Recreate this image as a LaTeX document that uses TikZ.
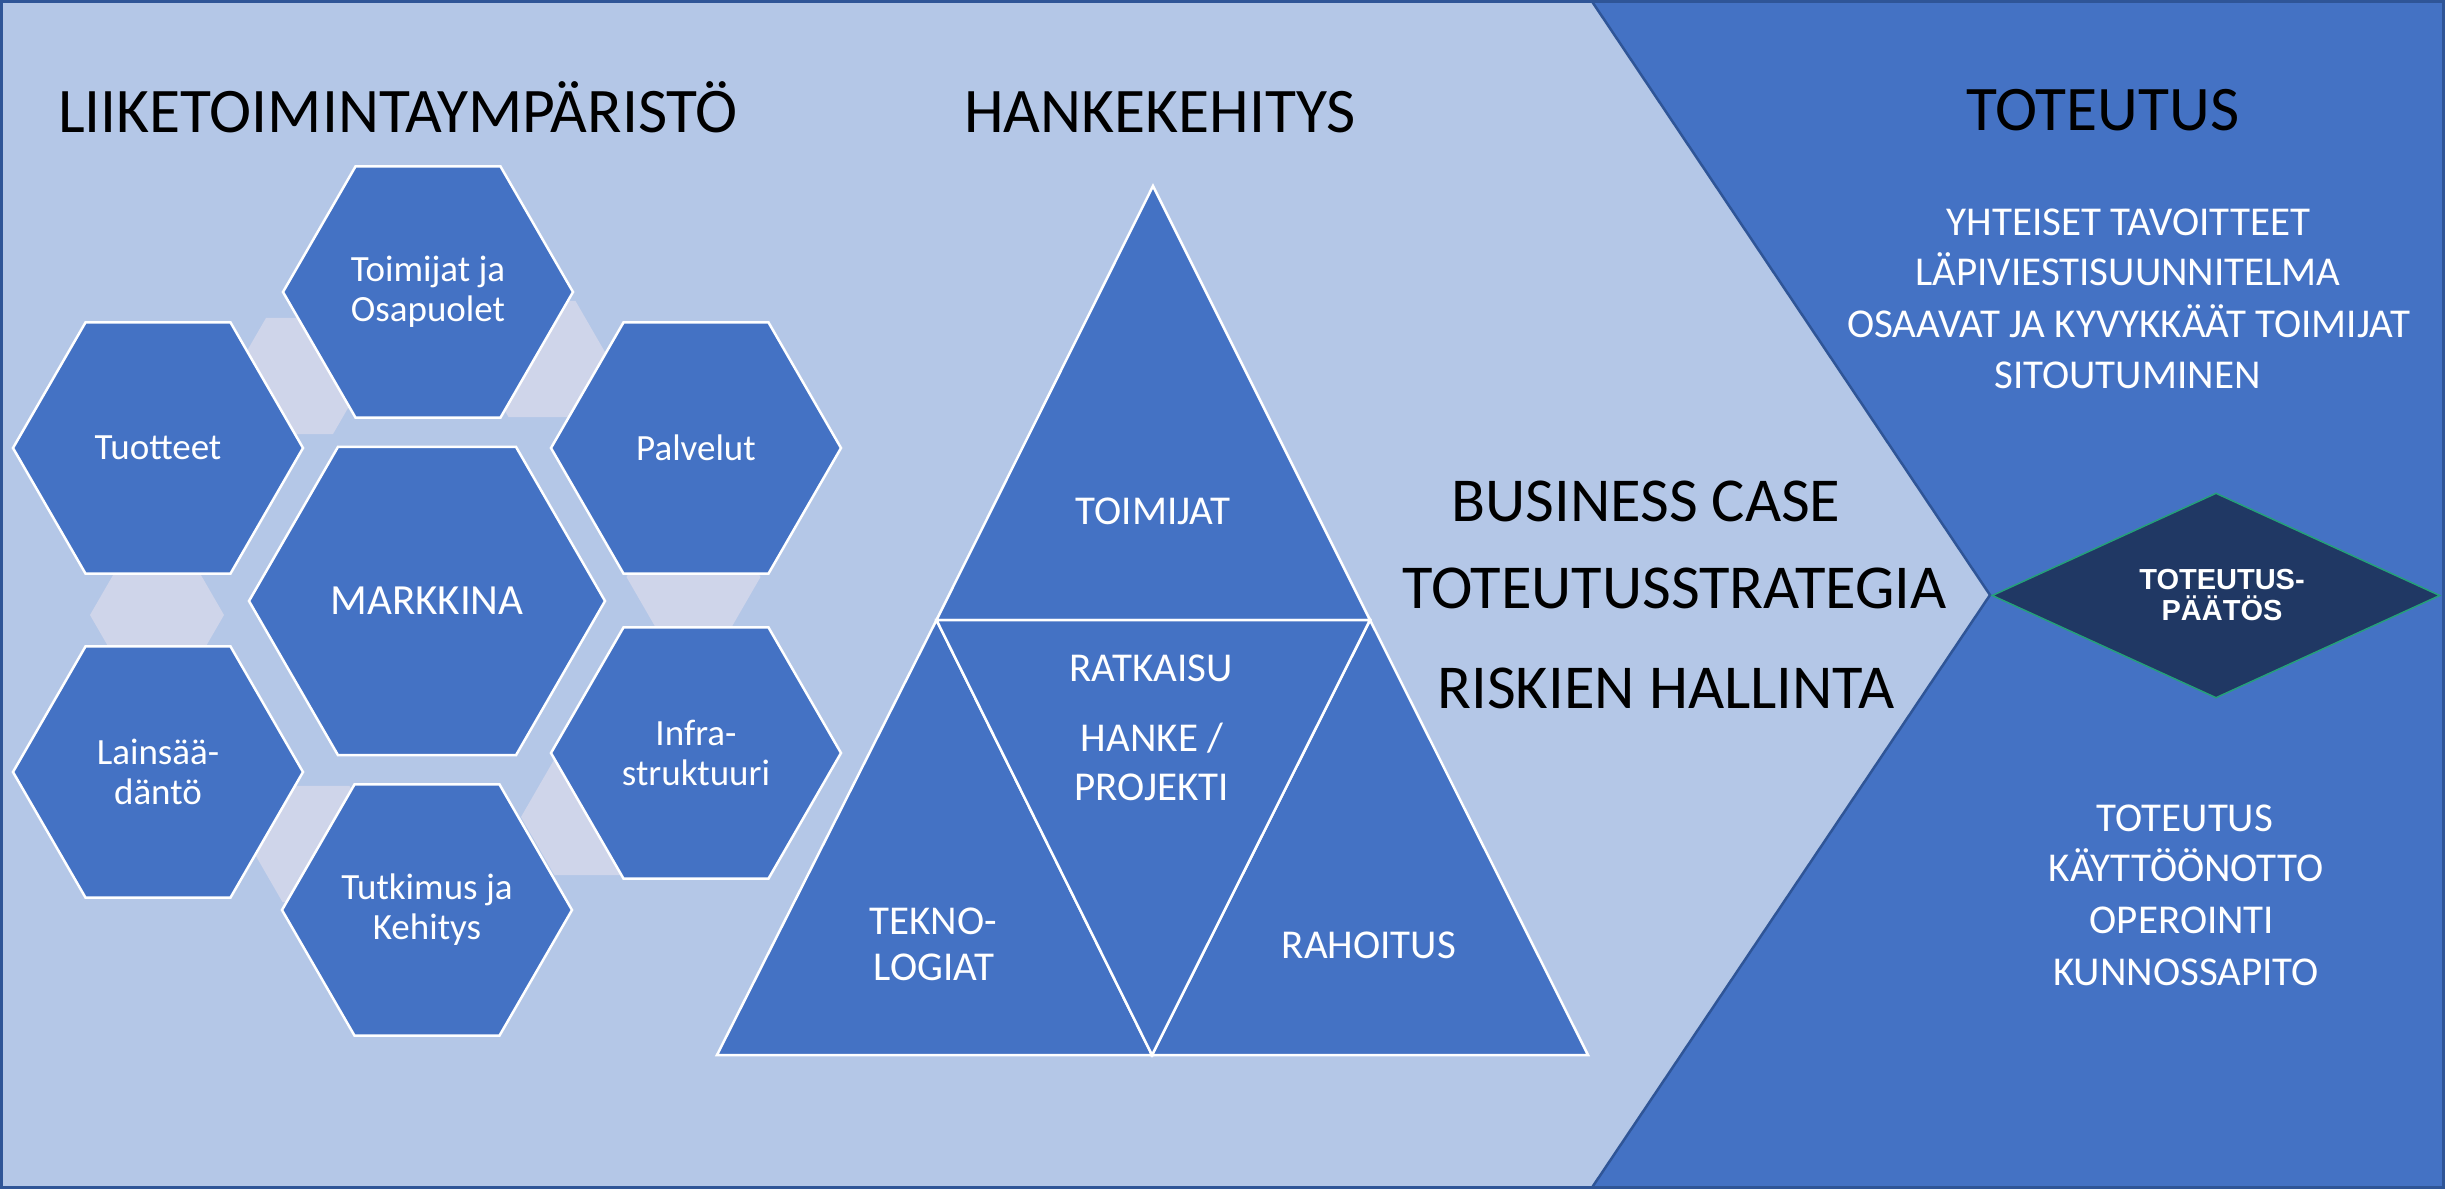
\documentclass[tikz,border=0pt]{standalone}
\usepackage{fontspec}
\setmainfont{Carlito}
\newfontfamily\arialfont{Liberation Sans}
\usetikzlibrary{shapes.geometric}
\definecolor{bgdark}{HTML}{4472C4}
\definecolor{bglight}{HTML}{B4C7E7}
\definecolor{palehex}{HTML}{CFD5EA}
\definecolor{navyfill}{HTML}{203864}
\definecolor{edgeblue}{HTML}{2F5597}
\definecolor{diamondedge}{HTML}{25A07A}
\begin{document}
\begin{tikzpicture}[x=1pt,y=-1pt,
  hexbox/.style={regular polygon, regular polygon sides=6, fill=bgdark, draw=white,
    line width=2.5pt, inner sep=0pt, outer sep=0pt, minimum size=290pt,
    text=white, align=center, font=\fontsize{37}{40}\selectfont},
  bridge/.style={regular polygon, regular polygon sides=6, fill=palehex, draw=none,
    inner sep=0pt, minimum size=134pt},
  tri/.style={fill=bgdark, draw=white, line width=2.5pt, line join=miter},
  titletext/.style={anchor=base, inner sep=0pt, text=black, font=\fontsize{63.5}{70}\selectfont},
  casetext/.style={anchor=base, inner sep=0pt, text=black, font=\fontsize{62.5}{70}\selectfont},
  tritext/.style={anchor=base, inner sep=0pt, text=white, font=\fontsize{41}{46}\selectfont},
  listtext/.style={anchor=base, inner sep=0pt, text=white, font=\fontsize{41}{46}\selectfont},
  decision/.style={diamond, aspect=2.2, fill=navyfill, draw=diamondedge, line width=1.5pt,
    inner sep=0pt, minimum width=448pt, minimum height=205pt, text=white, align=center,
    font=\arialfont\bfseries\fontsize{29}{31}\selectfont}
]
\useasboundingbox (0,0) rectangle (2445,1189);
% backgrounds
\fill[bgdark] (0,0) rectangle (2445,1189);
\filldraw[fill=bglight, draw=edgeblue, line width=2.5pt]
  (0,0) -- (1591,0) -- (1990,595) -- (1591,1189) -- (0,1189) -- cycle;

% pale bridges between the outer hexagons
\node[bridge] (b1) at (157,615) {};
\node[bridge] (b2) at (299.5,376) {};
\node[bridge] (b3) at (542,359) {};
\node[bridge] (b4) at (693.5,577) {};
\node[bridge] (b5) at (588,817) {};
\node[bridge] (b6) at (316,844) {};

% hexagons
\node[hexbox, minimum size=356pt, font=\fontsize{43}{46}\selectfont] (mark) at (427,601) {MARKKINA};
\node[hexbox] (toim) at (428,292) {Toimijat ja\\Osapuolet};
\node[hexbox] (tuot) at (158,448) {Tuotteet};
\node[hexbox] (palv) at (696,448) {Palvelut};
\node[hexbox] (lain) at (158,772) {Lainsää-\\däntö};
\node[hexbox] (infr) at (696,753) {Infra-\\struktuuri};
\node[hexbox] (tutk) at (427,910) {Tutkimus ja\\Kehitys};

% triangles
\coordinate (apex) at (1153,186);
\coordinate (ml) at (936.5,620);
\coordinate (mr) at (1370,620);
\coordinate (bl) at (717,1055);
\coordinate (bm) at (1152,1055);
\coordinate (br) at (1588,1055);
\draw[tri] (apex) -- (ml) -- (mr) -- cycle;
\draw[tri] (ml) -- (bl) -- (bm) -- cycle;
\draw[tri] (mr) -- (bm) -- (br) -- cycle;
\draw[tri] (ml) -- (mr) -- (bm) -- cycle;
\node[tritext] (t1) at (1153,524) {TOIMIJAT};
\node[tritext] (t2) at (1151,681) {RATKAISU};
\node[tritext] (t3) at (1152,751) {HANKE /};
\node[tritext] (t4) at (1151.5,800) {PROJEKTI};
\node[tritext] (t5) at (933,934.6) {TEKNO-};
\node[tritext] (t6) at (934,980) {LOGIAT};
\node[tritext] (t7) at (1369,958) {RAHOITUS};

% titles
\node[titletext] (h1) at (398,132.7) {LIIKETOIMINTAYMPÄRISTÖ};
\node[titletext] (h2) at (1160,132.7) {HANKEKEHITYS};
\node[titletext] (h3) at (2103,130) {TOTEUTUS};

% business case
\node[casetext] (c1) at (1646,521.7) {BUSINESS CASE};
\node[casetext] (c2) at (1674.6,608.3) {TOTEUTUSSTRATEGIA};
\node[casetext] (c3) at (1666,708.3) {RISKIEN HALLINTA};

% right lists
\node[listtext] (u1) at (2128.6,235) {YHTEISET TAVOITTEET};
\node[listtext] (u2) at (2128,285.7) {LÄPIVIESTISUUNNITELMA};
\node[listtext] (u3) at (2128.6,337.3) {OSAAVAT JA KYVYKKÄÄT TOIMIJAT};
\node[listtext] (u4) at (2127.5,388) {SITOUTUMINEN};
\node[listtext] (l1) at (2185,831.7) {TOTEUTUS};
\node[listtext] (l2) at (2186,881.7) {KÄYTTÖÖNOTTO};
\node[listtext] (l3) at (2182,933) {OPEROINTI};
\node[listtext] (l4) at (2186,985) {KUNNOSSAPITO};

% decision diamond
\node[decision] (paatos) at (2216,595.5) {\hspace*{12pt}TOTEUTUS-\\\hspace*{12pt}PÄÄTÖS};

% frame
\draw[edgeblue, line width=3pt] (1.5,1.5) rectangle (2443.5,1187.5);
\end{tikzpicture}
\end{document}
